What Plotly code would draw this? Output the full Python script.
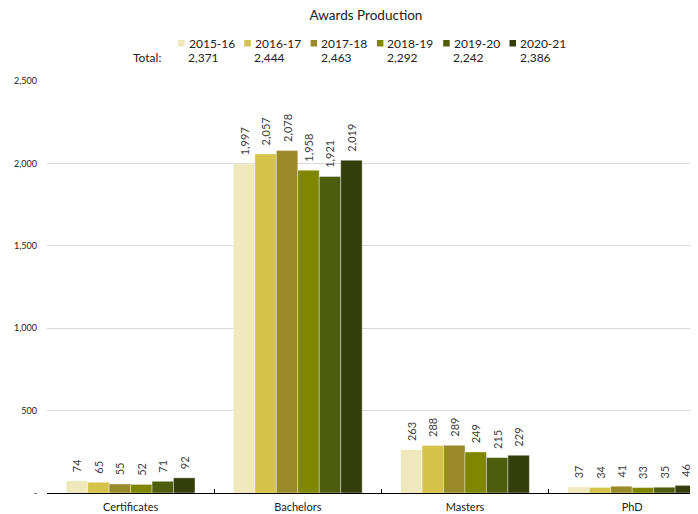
import plotly.graph_objects as go

categories = ["Certificates", "Bachelors", "Masters", "PhD"]
years = ["2015-16", "2016-17", "2017-18", "2018-19", "2019-20", "2020-21"]
v_2015_16 = [74, 1997, 263, 37]
v_2016_17 = [65, 2057, 288, 34]
v_2017_18 = [55, 2078, 289, 41]
v_2018_19 = [52, 1958, 249, 33]
v_2019_20 = [71, 1921, 215, 35]
v_2020_21 = [92, 2019, 229, 46]
series = [v_2015_16, v_2016_17, v_2017_18, v_2018_19, v_2019_20, v_2020_21]
totals = ["2,371", "2,444", "2,463", "2,292", "2,242", "2,386"]
colors = ["#EFE8BC", "#D5C248", "#9A8A2A", "#7F8600", "#4E5C0E", "#343E0A"]
ytick_vals = [0, 500, 1000, 1500, 2000, 2500]
ytick_text = ["-", "500", "1,000", "1,500", "2,000", "2,500"]

FONT = "Lato, 'Open Sans', sans-serif"
OFF = 8  # page body margin in the browser
W, H = 698 - OFF, 514 - OFF
ML, MR, MT = 47 - OFF, 0, 81 - OFF
MB = H - (493 - OFF)
PW, PH = W - ML - MR, H - MT - MB


def px_x(px):
    return (px - OFF - ML) / PW


def px_y(py):
    return (H - MB - (py - OFF)) / PH


fig = go.Figure()
for yr, vals, col in zip(years, series, colors):
    fig.add_trace(go.Bar(
        x=categories, y=vals, name=yr, showlegend=False,
        marker=dict(color=col, line=dict(color="rgba(255,255,255,0.55)", width=0.7)),
        texttemplate="\u00a0\u00a0%{y:,}", textposition="outside", textangle=-90,
        constraintext="none",
        textfont=dict(family=FONT, size=11, color="#404040"),
        cliponaxis=False,
    ))

# legend (squares + labels) and totals row
step = 66.3
for i, (yr, t, col) in enumerate(zip(years, totals, colors)):
    sx = 178 + step * i
    fig.add_shape(type="rect", xref="paper", yref="paper",
                  x0=px_x(sx), x1=px_x(sx + 6.5), y0=px_y(46.5), y1=px_y(40),
                  fillcolor=col, line=dict(width=0))
    fig.add_annotation(x=px_x(sx + 9.5), y=px_y(43), xref="paper", yref="paper",
                       text=yr, showarrow=False, xanchor="left", yanchor="middle",
                       xshift=-1, font=dict(family=FONT, size=12, color="#222"))
    fig.add_annotation(x=px_x(sx + 9), y=px_y(57), xref="paper", yref="paper",
                       text=t, showarrow=False, xanchor="left", yanchor="middle",
                       xshift=-1, font=dict(family=FONT, size=12, color="#222"))
fig.add_annotation(x=px_x(132), y=px_y(57), xref="paper", yref="paper",
                   text="Total:", showarrow=False, xanchor="left", yanchor="middle",
                   xshift=-1, font=dict(family=FONT, size=12, color="#222"))

span = PW / 167.2
fig.update_layout(
    width=W, height=H,
    margin=dict(l=ML, r=MR, t=MT, b=MB, autoexpand=False),
    paper_bgcolor="white", plot_bgcolor="white",
    barmode="group", bargap=0.23, bargroupgap=0,
    showlegend=False,
    title=dict(text="Awards Production", x=(366 - OFF) / W, xanchor="center",
               y=1 - (15 - OFF) / H, yanchor="middle",
               font=dict(family=FONT, size=13.5, color="#222")),
    xaxis=dict(range=[-0.5, -0.5 + span], showline=True, linecolor="black", linewidth=1,
               ticks="inside", tickson="boundaries", ticklen=4, tickcolor="black",
               ticklabelstandoff=4,
               tickfont=dict(family=FONT, size=11, color="#222"), showgrid=False, fixedrange=True),
    yaxis=dict(range=[0, 2500], tickvals=ytick_vals, ticktext=ytick_text,
               showgrid=True, gridcolor="#D9D9D9", gridwidth=1, zeroline=False,
               showline=False, ticks="", ticklabelstandoff=9,
               tickfont=dict(family=FONT, size=9, color="#222")),
)

fig.write_html("out.html")
